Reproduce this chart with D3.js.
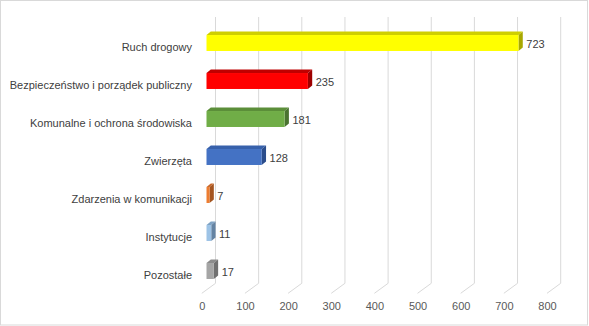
<!DOCTYPE html>
<html>
<head>
<meta charset="utf-8">
<script src="https://cdn.jsdelivr.net/npm/d3@7"></script>
<style>
  html, body { margin: 0; padding: 0; background: #fff; }
  svg { display: block; }
  text { font-family: "Liberation Sans", Arial, sans-serif; }
</style>
</head>
<body>
<script>
// Zgłoszenia wg kategorii
const categories = [
  "Ruch drogowy",
  "Bezpieczeństwo i porządek publiczny",
  "Komunalne i ochrona środowiska",
  "Zwierzęta",
  "Zdarzenia w komunikacji",
  "Instytucje",
  "Pozostałe"
];
const values = [723, 235, 181, 128, 7, 11, 17];
const frontColors = ["#FFFF00", "#FF0000", "#70AD47", "#4472C4", "#ED7D31", "#9DC3E6", "#A5A5A5"];
const topColors   = ["#CFCF00", "#C00000", "#5B8E39", "#3761AB", "#C9682A", "#7FA3C4", "#8C8C8C"];
const sideColors  = ["#A8A800", "#9E0000", "#4A7330", "#2B4D8C", "#A4541F", "#6584A3", "#707070"];
const tickValues = [0, 100, 200, 300, 400, 500, 600, 700, 800];

const W = 589, H = 326;
const svg = d3.select("body").append("svg").attr("width", W).attr("height", H);

// chart frame
svg.append("rect")
  .attr("x", 0.5).attr("y", 0.5).attr("width", W - 2).attr("height", H - 1.5)
  .attr("fill", "#fff").attr("stroke", "#D9D9D9");

// value scale (shared by back wall, bars and the front axis, each offset in depth)
const x = d3.scaleLinear().domain([0, 800]).range([0, 345.2]);
const backX0 = 215.5, barX0 = 206.5;
const wallTop = 17, wallBottom = 283.3;
const floorDx = -13.7, floorDy = 10;

const y = d3.scaleBand().domain(categories).range([24, 290]).paddingInner(0.58).paddingOuter(0.29);

// back wall gridlines and floor lines
const grid = svg.append("g");
tickValues.forEach(t => {
  const gx = backX0 + x(t);
  grid.append("line")
    .attr("x1", gx).attr("x2", gx).attr("y1", wallTop).attr("y2", wallBottom)
    .attr("stroke", "#D9D9D9").attr("stroke-width", 1);
  grid.append("line")
    .attr("x1", gx).attr("y1", wallBottom).attr("x2", gx + floorDx).attr("y2", wallBottom + floorDy)
    .attr("stroke", "#D9D9D9").attr("stroke-width", 1);
});

// front axis labels
const axisG = svg.append("g").attr("transform", `translate(${backX0 + floorDx},${wallBottom + floorDy})`);
const axis = d3.axisBottom(x).tickValues(tickValues).tickSize(0).tickPadding(9).tickFormat(d3.format("d"));
axisG.call(axis);
axisG.select(".domain").remove();
axisG.selectAll("text")
  .attr("fill", "#595959").style("font-size", "11px")
  .style("font-family", "'Liberation Sans', Arial, sans-serif");

// 3D bars
const depthX = 4.3, depthY = 3.6;
const barH = y.bandwidth();
const bars = svg.append("g");
categories.forEach((c, i) => {
  const x0 = barX0, x1 = barX0 + x(values[i]);
  const y0 = y(c), y1 = y0 + barH;
  const g = bars.append("g");
  g.append("path")
    .attr("d", `M${x0},${y0}L${x0 + depthX},${y0 - depthY}L${x1 + depthX},${y0 - depthY}L${x1},${y0}Z`)
    .attr("fill", topColors[i]);
  g.append("path")
    .attr("d", `M${x1},${y0}L${x1 + depthX},${y0 - depthY}L${x1 + depthX},${y1 - depthY}L${x1},${y1}Z`)
    .attr("fill", sideColors[i]);
  g.append("rect")
    .attr("x", x0).attr("y", y0).attr("width", x1 - x0).attr("height", barH)
    .attr("fill", frontColors[i]);
  // value label
  g.append("text")
    .attr("x", x1 + depthX + 3.5).attr("y", y0 + barH / 2 + 1)
    .attr("dy", "0.35em")
    .attr("fill", "#404040").style("font-size", "11px")
    .text(values[i]);
});

// category labels
svg.append("g").selectAll("text").data(categories).join("text")
  .attr("x", 192).attr("y", d => y(d) + barH / 2 + 3.7)
  .attr("dy", "0.35em").attr("text-anchor", "end")
  .attr("fill", "#404040").style("font-size", "11px")
  .text(d => d);
</script>
</body>
</html>
